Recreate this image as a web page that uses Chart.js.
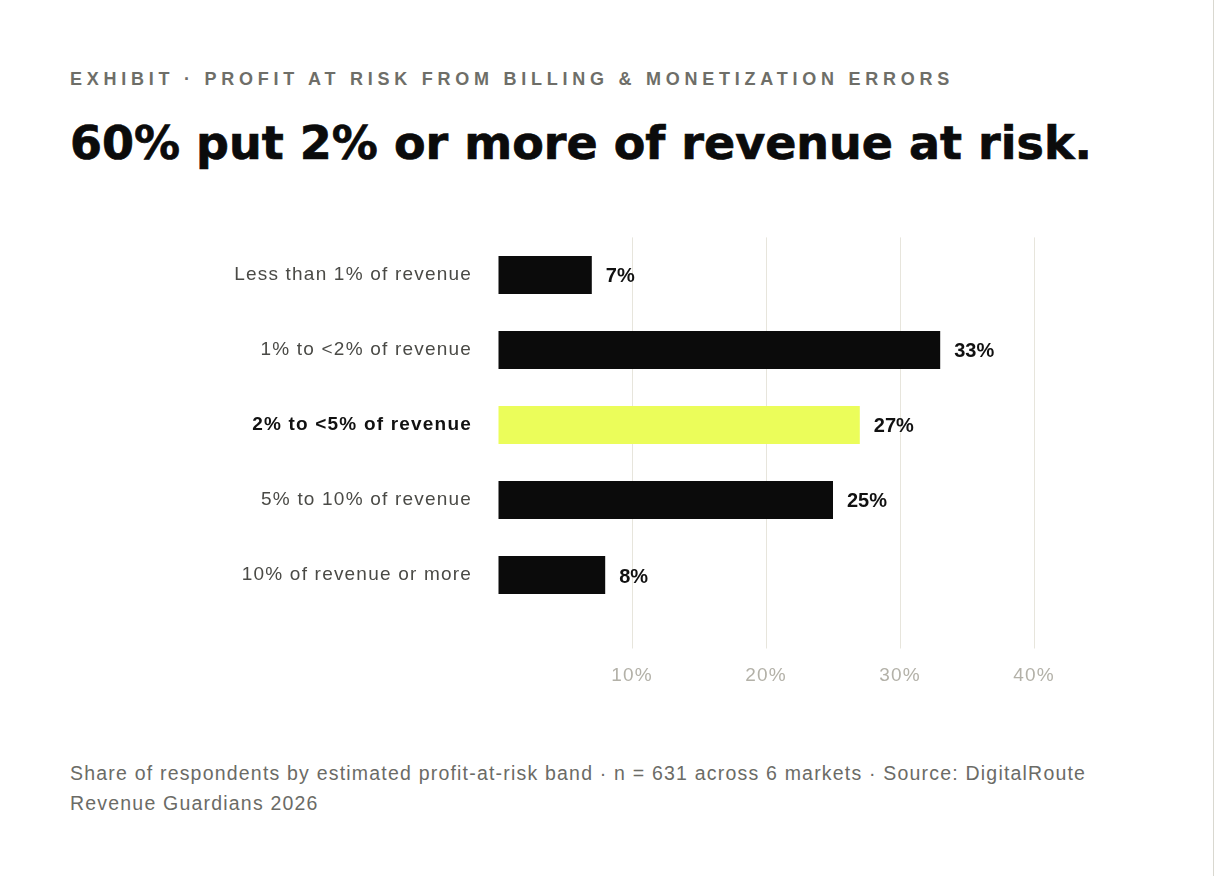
<!DOCTYPE html>
<html>
<head>
<meta charset="utf-8">
<script src="https://cdn.jsdelivr.net/npm/chart.js@4/dist/chart.umd.min.js"></script>
<style>
  html, body { margin: 0; padding: 0; background: #ffffff; }
  body { width: 1213px; height: 876px; border-right: 1px solid #d9d8d0; position: relative; overflow: hidden; }
  .kicker { position: absolute; left: 70px; top: 70px; font: bold 18px/18px "Liberation Sans", Arial, sans-serif; letter-spacing: 4.75px; color: #6e6e68; white-space: nowrap; }
  .title { position: absolute; left: 70px; top: 120px; font: bold 46px/46px "DejaVu Sans", sans-serif; color: #0b0b0b; white-space: nowrap; letter-spacing: 0px; -webkit-text-stroke: 0.7px #0b0b0b; }
  .chartbox { position: absolute; left: 70px; top: 200px; width: 1074px; height: 510px; }
  .note { position: absolute; left: 70px; top: 758px; width: 1074px; font: 19.5px/30px "Liberation Sans", Arial, sans-serif; letter-spacing: 1.2px; color: #6b6b66; }
</style>
</head>
<body>
<div class="kicker">EXHIBIT · PROFIT AT RISK FROM BILLING &amp; MONETIZATION ERRORS</div>
<div class="title">60% put 2% or more of revenue at risk.</div>
<div class="chartbox"><canvas id="c"></canvas></div>
<div class="note">Share of respondents by estimated profit-at-risk band · n = 631 across 6 markets · Source: DigitalRoute Revenue Guardians 2026</div>
<script>
const categories = [
  'Less than 1% of revenue',
  '1% to <2% of revenue',
  '2% to <5% of revenue',
  '5% to 10% of revenue',
  '10% of revenue or more'
];
const shares = [7, 33, 27, 25, 8];
const highlightIndex = 2;
const axisMin = 0;
const axisMax = 40;
const axisStep = 10;

const FONT = '"Liberation Sans", Arial, sans-serif';
const barColors = categories.map((_, i) => i === highlightIndex ? '#ebfd5a' : '#0b0b0b');

const spacingPlugin = {
  id: 'spacing',
  beforeDraw(chart) { chart.ctx.letterSpacing = '1.2px'; },
  beforeDatasetsDraw(chart) { chart.ctx.letterSpacing = '0px'; }
};

const valueLabels = {
  id: 'valueLabels',
  afterDatasetsDraw(chart) {
    const ctx = chart.ctx;
    const meta = chart.getDatasetMeta(0);
    ctx.save();
    ctx.letterSpacing = '0px';
    ctx.font = 'bold 20px ' + FONT;
    ctx.fillStyle = '#111111';
    ctx.textAlign = 'left';
    ctx.textBaseline = 'middle';
    meta.data.forEach((bar, i) => {
      ctx.fillText(shares[i] + '%', bar.x + 14, bar.y + 2);
    });
    ctx.restore();
  }
};

new Chart(document.getElementById('c'), {
  type: 'bar',
  data: {
    labels: categories,
    datasets: [{
      data: shares,
      backgroundColor: barColors,
      borderWidth: 0,
      categoryPercentage: 1,
      barPercentage: 0.507
    }]
  },
  options: {
    indexAxis: 'y',
    responsive: true,
    maintainAspectRatio: false,
    animation: false,
    layout: { padding: { top: 17.5, right: 110, left: 0, bottom: 0 } },
    plugins: { legend: { display: false }, tooltip: { enabled: false } },
    scales: {
      x: {
        min: axisMin,
        max: axisMax,
        border: { display: false },
        grid: {
          color: c => (c.tick && c.tick.value === 0) ? 'rgba(0,0,0,0)' : '#e7e5dc',
          lineWidth: 1,
          tickLength: 36,
          drawTicks: true
        },
        ticks: {
          stepSize: axisStep,
          padding: 16,
          color: '#b3b1a8',
          font: { family: FONT, size: 19 },
          callback: v => v === 0 ? '' : v + '%'
        },
        afterFit: s => { s.height = 97.5; }
      },
      y: {
        border: { display: false },
        grid: { display: false, drawTicks: false, tickLength: 0 },
        ticks: {
          padding: 26,
          color: c => c.index === highlightIndex ? '#111111' : '#4a4a46',
          font: c => ({ family: FONT, size: 19, weight: c.index === highlightIndex ? 'bold' : 'normal' })
        },
        afterFit: s => { s.width = 428; }
      }
    }
  },
  plugins: [spacingPlugin, valueLabels]
});
</script>
</body>
</html>
